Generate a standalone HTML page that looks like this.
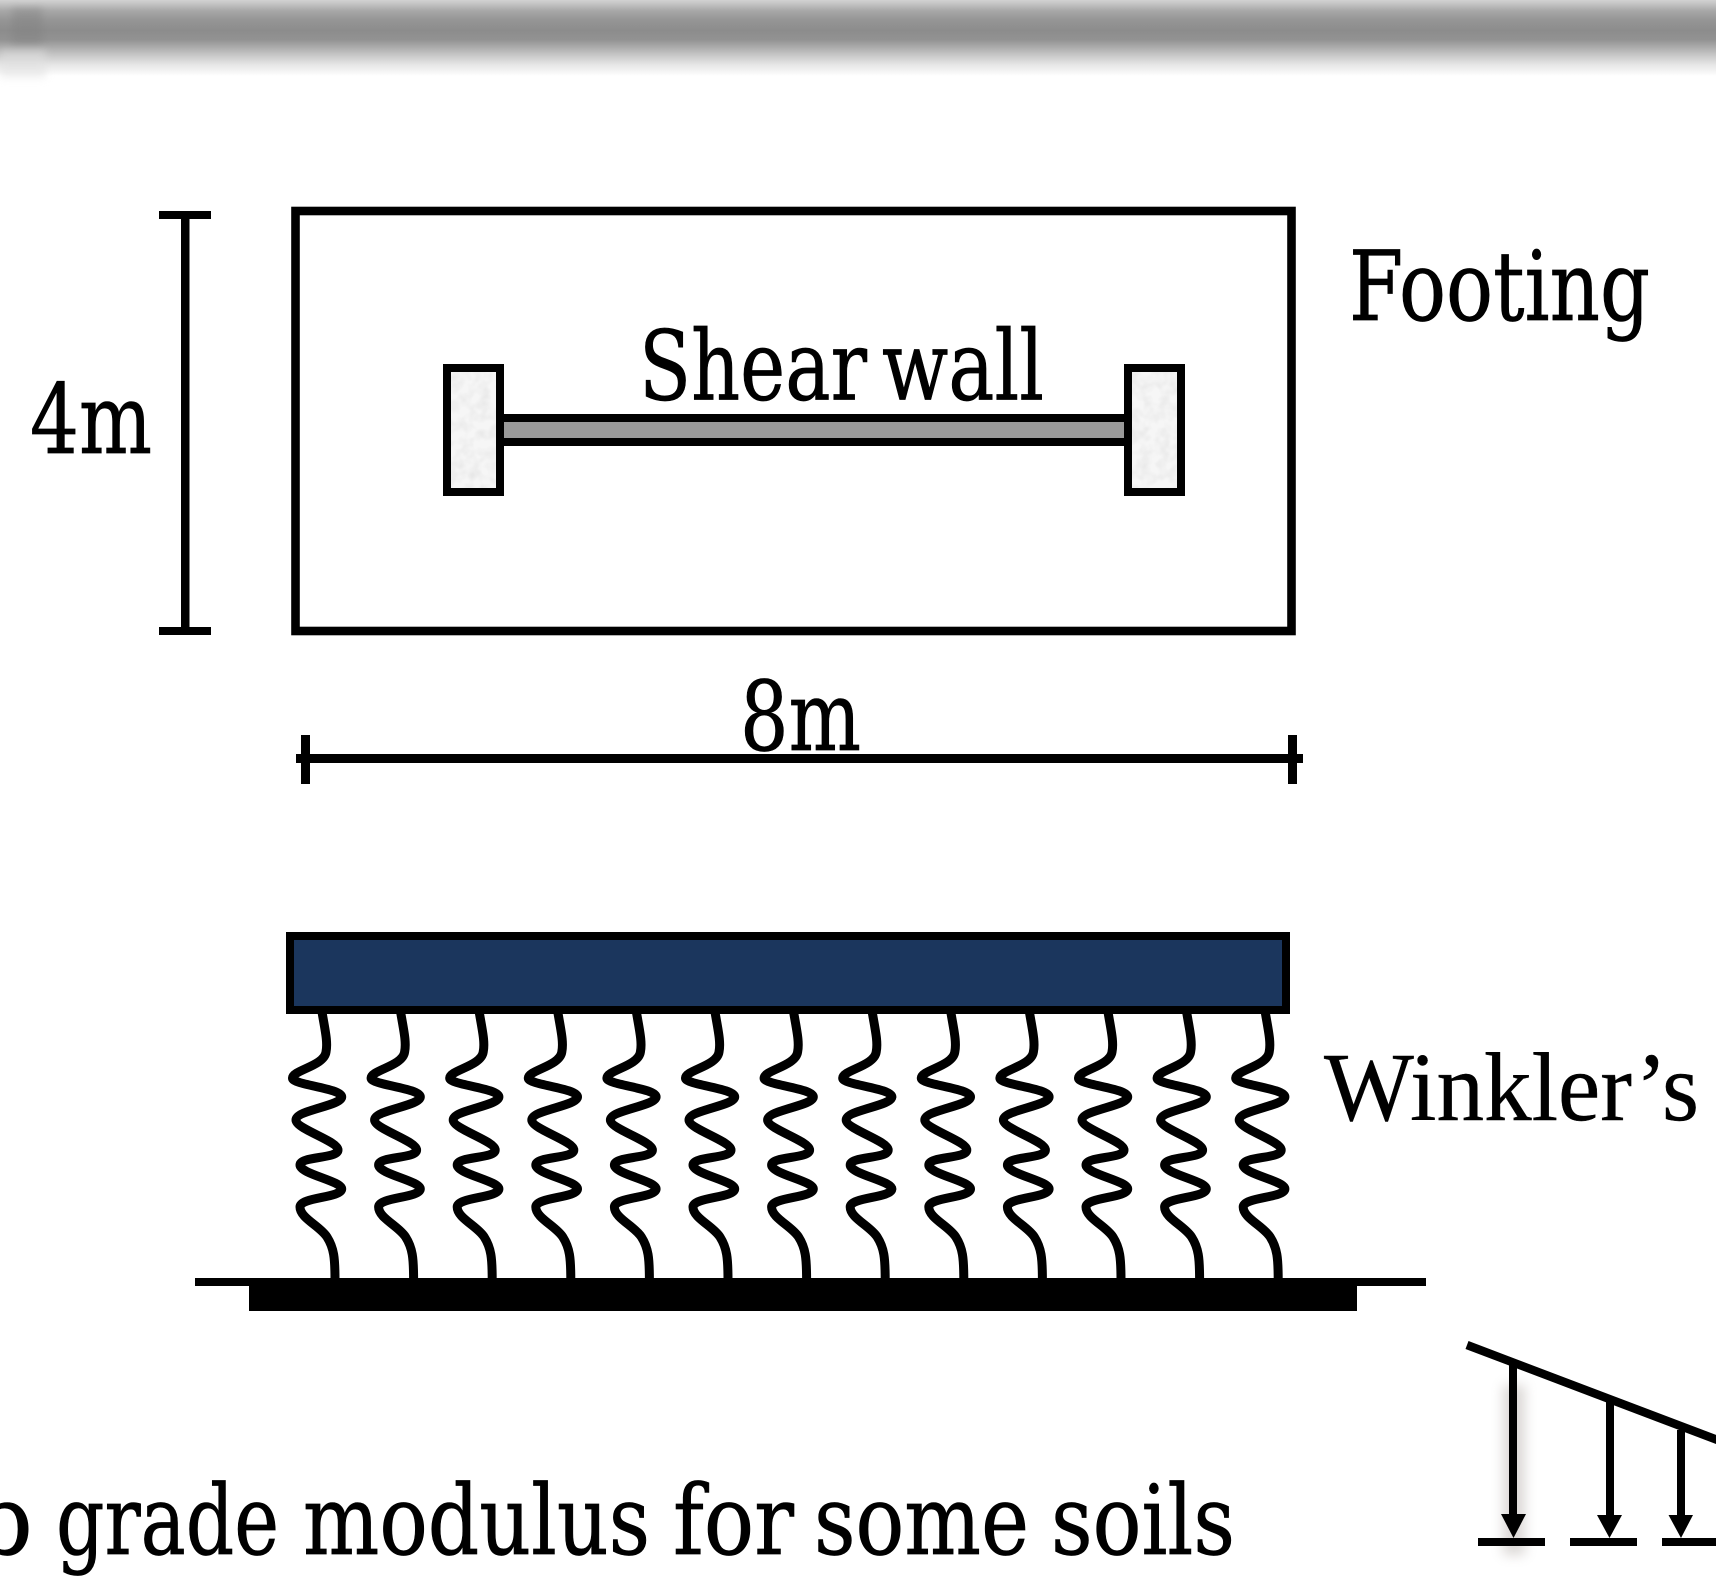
<!DOCTYPE html>
<html><head><meta charset="utf-8"><style>
html,body{margin:0;padding:0;background:#fff;width:1716px;height:1587px;overflow:hidden}
svg{display:block}
.d{font-family:"DejaVu Serif","Liberation Serif",serif;font-size:96px;fill:#000;stroke:#000;stroke-width:.7px}
.l{font-family:"Liberation Serif",serif;font-size:98px;fill:#000;stroke:#000;stroke-width:.4px}
</style></head><body>
<svg width="1716" height="1587" viewBox="0 0 1716 1587" xmlns="http://www.w3.org/2000/svg">
<defs>
<linearGradient id="band" x1="0" y1="0" x2="0" y2="1">
<stop offset="0" stop-color="#d2d2d2"/><stop offset=".05" stop-color="#c4c4c4"/><stop offset=".14" stop-color="#a8a8a8"/><stop offset=".26" stop-color="#969696"/><stop offset=".4" stop-color="#8c8c8c"/><stop offset=".52" stop-color="#929292"/><stop offset=".62" stop-color="#ababab"/><stop offset=".72" stop-color="#c6c6c6"/><stop offset=".85" stop-color="#e6e6e6"/><stop offset=".96" stop-color="#f8f8f8"/><stop offset="1" stop-color="#fff"/>
</linearGradient>
<filter id="b4" x="-50%" y="-50%" width="200%" height="200%"><feGaussianBlur stdDeviation="4"/></filter>
<filter id="b8" x="-100%" y="-20%" width="300%" height="140%"><feGaussianBlur stdDeviation="6"/></filter>
<filter id="noise" x="0" y="0" width="100%" height="100%"><feTurbulence type="fractalNoise" baseFrequency=".1" numOctaves="2" seed="4"/><feColorMatrix values="0 0 0 0 .78  0 0 0 0 .78  0 0 0 0 .78  1.6 0 0 0 -.58"/><feComposite in2="SourceGraphic" operator="in" result="n"/><feMerge><feMergeNode in="SourceGraphic"/><feMergeNode in="n"/></feMerge></filter>
<path id="s" fill="none" stroke="#000" stroke-width="9" d="M322 1012 C325 1030 328 1042 326 1052 C324 1066 293 1070 292.5 1078 C292 1085 342 1088 341.7 1097 C341 1106 296 1110 296 1120 C296 1129 338 1141 338 1150 C338 1159 300 1156 300 1165 C300 1174 342 1181 341.7 1189 C341 1198 300 1197 300 1207 C300 1218 320 1226 327 1237 C334 1248 335 1258 335 1280"/>
</defs>
<rect width="1716" height="1587" fill="#fff"/>
<rect x="0" y="0" width="1716" height="76" fill="url(#band)"/>
<rect x="12" y="8" width="30" height="36" fill="#808080" opacity=".4" filter="url(#b4)"/>
<rect x="0" y="50" width="46" height="28" fill="#e0e0e0" opacity=".5" filter="url(#b4)"/>

<!-- 4m dimension -->
<rect x="159" y="211" width="52" height="8" fill="#000"/>
<rect x="181" y="211" width="8.5" height="424" fill="#000"/>
<rect x="159" y="627" width="52" height="8" fill="#000"/>
<text class="d" x="30" y="453" textLength="122" lengthAdjust="spacingAndGlyphs">4m</text>

<!-- Footing plan -->
<rect x="295.5" y="211" width="996" height="420" fill="#fff" stroke="#000" stroke-width="8.6"/>
<rect x="500" y="418" width="628" height="24" fill="#999" stroke="#000" stroke-width="8"/>
<rect x="451" y="372" width="45" height="116" fill="#f6f6f6" filter="url(#noise)"/>
<rect x="447" y="368" width="53" height="124" fill="none" stroke="#000" stroke-width="8"/>
<rect x="1132" y="372" width="45" height="116" fill="#f6f6f6" filter="url(#noise)"/>
<rect x="1128" y="368" width="53" height="124" fill="none" stroke="#000" stroke-width="8"/>
<text class="d" x="639" y="399.5" textLength="228" lengthAdjust="spacingAndGlyphs">Shear</text>
<text class="d" x="882" y="399.5" textLength="162" lengthAdjust="spacingAndGlyphs">wall</text>
<text class="d" x="1349" y="320" textLength="301" lengthAdjust="spacingAndGlyphs">Footing</text>

<!-- 8m dimension -->
<rect x="296" y="754" width="1007" height="9" fill="#000"/>
<rect x="301" y="735" width="9" height="49" fill="#000"/>
<rect x="1288" y="735" width="9" height="49" fill="#000"/>
<text class="d" x="740" y="750" textLength="121" lengthAdjust="spacingAndGlyphs">8m</text>

<!-- Springs -->
<use href="#s"/>
<use href="#s" x="78.6"/>
<use href="#s" x="157.2"/>
<use href="#s" x="235.8"/>
<use href="#s" x="314.4"/>
<use href="#s" x="393"/>
<use href="#s" x="471.6"/>
<use href="#s" x="550.2"/>
<use href="#s" x="628.8"/>
<use href="#s" x="707.4"/>
<use href="#s" x="786"/>
<use href="#s" x="864.6"/>
<use href="#s" x="943.2"/>

<!-- Footing section -->
<rect x="290" y="936" width="996" height="74" fill="#1b365d" stroke="#000" stroke-width="8"/>

<!-- Ground -->
<rect x="195" y="1278" width="1231" height="8" fill="#000"/>
<rect x="249" y="1278" width="1108" height="33" fill="#000"/>

<text class="l" x="1324" y="1120" textLength="375" lengthAdjust="spacingAndGlyphs">Winkler’s</text>

<!-- Caption -->
<text class="d" x="33" y="1554" text-anchor="end">Sub</text>
<text class="d" x="56" y="1554" textLength="223" lengthAdjust="spacingAndGlyphs">grade</text>
<text class="d" x="303" y="1554" textLength="347" lengthAdjust="spacingAndGlyphs">modulus</text>
<text class="d" x="673" y="1554" textLength="121" lengthAdjust="spacingAndGlyphs">for</text>
<text class="d" x="814" y="1554" textLength="215" lengthAdjust="spacingAndGlyphs">some</text>
<text class="d" x="1051" y="1554" textLength="184" lengthAdjust="spacingAndGlyphs">soils</text>

<!-- Load diagram -->
<rect x="1503" y="1385" width="22" height="170" fill="#8a8078" opacity=".3" filter="url(#b8)"/>
<line x1="1467" y1="1345" x2="1720" y2="1441" stroke="#000" stroke-width="8.5"/>
<rect x="1509" y="1363" width="8" height="155" fill="#000"/>
<polygon points="1501,1514 1526,1514 1513.5,1538" fill="#000"/>
<rect x="1478" y="1538" width="67" height="8" fill="#000"/>
<rect x="1606" y="1397" width="8" height="120" fill="#000"/>
<polygon points="1597,1515 1622,1515 1609.5,1538" fill="#000"/>
<rect x="1570" y="1538" width="67" height="8" fill="#000"/>
<rect x="1677" y="1430" width="8" height="88" fill="#000"/>
<polygon points="1668.5,1515 1693,1515 1681,1538" fill="#000"/>
<rect x="1662" y="1538" width="54" height="8" fill="#000"/>
</svg>
</body></html>
